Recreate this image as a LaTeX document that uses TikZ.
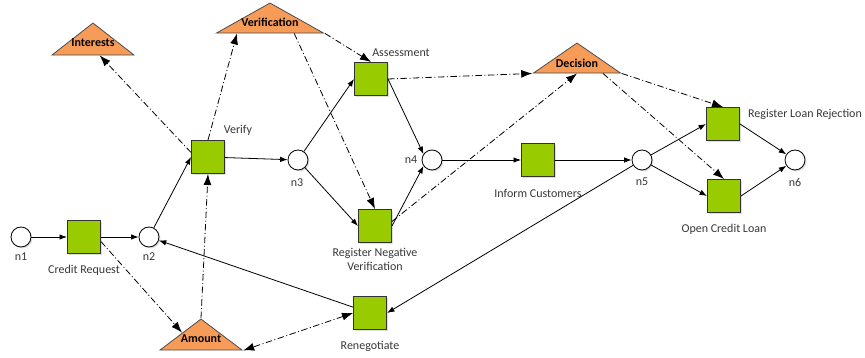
\documentclass[tikz,border=0pt]{standalone}
\usepackage{fontspec}
\setmainfont{Carlito}
\usetikzlibrary{shapes.geometric,arrows.meta,shadows,calc}

\definecolor{taskgreen}{RGB}{153,204,0}
\definecolor{dataorange}{RGB}{247,156,88}
\definecolor{lblgray}{RGB}{55,55,55}

\tikzset{
  flowtip/.tip={Latex[length=7.5pt,width=5.5pt]},
  datatip/.tip={Latex[length=11pt,width=8pt]},
  softshadow/.style={drop shadow={shadow xshift=1.5pt,shadow yshift=-1.5pt,opacity=0.25}}
}

\begin{document}
\begin{tikzpicture}[x=1pt,y=-1pt,
    place/.style={circle,draw,line width=0.8pt,fill=white,minimum size=20pt,inner sep=0pt,softshadow},
    trans/.style={rectangle,draw=black!80,line width=1pt,fill=taskgreen,minimum size=33pt,inner sep=0pt,softshadow},
    datum/.style={isosceles triangle,isosceles triangle stretches,shape border rotate=90,draw=black!70,line width=0.8pt,fill=dataorange,inner sep=0pt,anchor=apex},
    lbl/.style={text=lblgray,font=\fontsize{12}{14}\selectfont,inner sep=1pt},
    dlbl/.style={font=\fontsize{12}{14}\selectfont\bfseries,inner sep=1pt},
    flow/.style={-flowtip,line width=0.8pt},
    dflow/.style={-datatip,line width=0.8pt,dash pattern=on 6.5pt off 2.5pt on 1pt off 2.5pt}]
  \useasboundingbox (0,0) rectangle (865,358);

  \node [place] (n1) at (21,237) {};
  \node [place] (n2) at (149,237) {};
  \node [place] (n3) at (298,160) {};
  \node [place] (n4) at (432,160) {};
  \node [place] (n5) at (642,160) {};
  \node [place] (n6) at (795,160) {};

  \node [trans] (credit) at (84,237) {};
  \node [trans] (verify) at (208,157) {};
  \node [trans] (assess) at (371,79) {};
  \node [trans] (negver) at (375,226) {};
  \node [trans] (inform) at (538,160) {};
  \node [trans] (reneg) at (370,313) {};
  \node [trans] (reject) at (723,124) {};
  \node [trans] (openloan) at (724,196) {};

  \node [datum,minimum width=82pt,minimum height=32pt] (interests) at (93,22) {};
  \node [datum,minimum width=107pt,minimum height=30pt] (verification) at (270,2) {};
  \node [datum,minimum width=87pt,minimum height=30pt] (decision) at (577,42) {};
  \node [datum,minimum width=82pt,minimum height=31pt] (amount) at (201,318) {};

  \node [dlbl] (interestslbl) at (93,43) {Interests};
  \node [dlbl] (verificationlbl) at (270,22) {Verification};
  \node [dlbl] (decisionlbl) at (577,63) {Decision};
  \node [dlbl] (amountlbl) at (201,339) {Amount};

  \node [lbl] (n1lbl) at (21,257) {n1};
  \node [lbl] (n2lbl) at (149,257) {n2};
  \node [lbl] (n3lbl) at (297,183) {n3};
  \node [lbl] (n4lbl) at (411,160) {n4};
  \node [lbl] (n5lbl) at (642,182) {n5};
  \node [lbl] (n6lbl) at (795,182) {n6};
  \node [lbl] (creditlbl) at (84,270) {Credit Request};
  \node [lbl] (verifylbl) at (238,130) {Verify};
  \node [lbl] (assesslbl) at (401,53) {Assessment};
  \node [lbl,align=center] (negverlbl) at (375,259) {Register Negative\\Verification};
  \node [lbl] (informlbl) at (538,193) {Inform Customers};
  \node [lbl] (reneglbl) at (370,346) {Renegotiate};
  \node [lbl] (rejectlbl) at (805,114) {Register Loan Rejection};
  \node [lbl] (openloanlbl) at (724,229) {Open Credit Loan};

  \draw [flow] (n1) -- (credit);
  \draw [flow] (credit) -- (n2);
  \draw [flow] (n2) -- (verify.west);
  \draw [flow] (verify) -- (n3);
  \draw [flow] (n3) -- (assess.west);
  \draw [flow] (n3) -- (negver.west);
  \draw [flow] (assess.east) -- (n4.145);
  \draw [flow] (negver.east) -- (n4.215);
  \draw [flow] (n4) -- (inform);
  \draw [flow] (inform) -- (n5);
  \draw [flow] (n5) -- (reject.west);
  \draw [flow] (n5) -- (openloan.west);
  \draw [flow] (reject.east) -- (n6);
  \draw [flow] (openloan.east) -- (n6);
  \draw [flow] (reneg) -- (n2);
  \draw [flow] (n5) -- (reneg.east);

  \draw [dflow] (verify.165) -- ($(interests.left corner)!0.58!(interests.right corner)$);
  \draw [dflow] (verify.north) -- ($(verification.left corner)!0.2!(verification.right corner)$);
  \draw [dflow] (amount.apex) -- (verify.south);
  \draw [dflow] (credit.345) -- ($(amount.apex)!0.45!(amount.left corner)$);
  \draw [dflow] (verification.right corner) -- (assess.north);
  \draw [dflow] ($(verification.left corner)!0.72!(verification.right corner)$) -- (negver.north);
  \draw [dflow] (assess.east) -- (decision.left corner);
  \draw [dflow] (negver.15) -- ($(decision.left corner)!0.5!(decision.right corner)$);
  \draw [dflow] (decision.right corner) -- (reject.north);
  \draw [dflow] ($(decision.left corner)!0.79!(decision.right corner)$) -- (openloan.north);
  \draw [dflow,datatip-datatip] (reneg.west) -- (amount.right corner);
\end{tikzpicture}
\end{document}
